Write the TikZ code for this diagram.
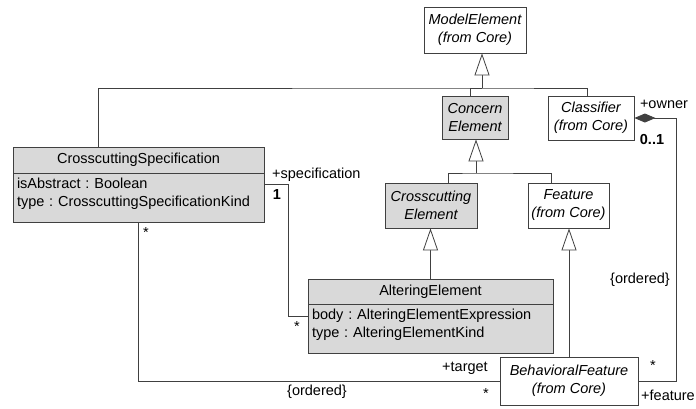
\documentclass[tikz,border=0pt]{standalone}
\usepackage{fontspec}
\setmainfont{Liberation Sans}
\usetikzlibrary{arrows.meta,positioning}
\newcommand\umlfont{\fontsize{14.5}{18}\selectfont}
\frenchspacing

\begin{document}
\begin{tikzpicture}[
  x=1pt, y=-1pt,
  font=\umlfont,
  node distance=0pt,
  line/.style={draw=black!75, line width=0.8pt},
  cls/.style={line, fill=gray!30, align=center, inner sep=0pt},
  abs/.style={line, fill=white, align=center, inner sep=0pt, font=\umlfont\itshape},
  attrs/.style={line, fill=gray!30, align=left, inner xsep=4pt, inner ysep=4pt, text depth=30pt},
  gen/.style={line, -{Triangle[open, length=22pt, width=15pt, fill=white]}},
  comp/.style={line, -{Diamond[length=21pt, width=9pt, fill=black!75]}},
  lbl/.style={inner sep=0pt}
]
\useasboundingbox (0,0) rectangle (696,408);

% classes
\node[abs, minimum width=102pt, minimum height=46pt] (model) at (475,30) {ModelElement\\(from Core)};
\node[abs, fill=gray!30, minimum width=66pt, minimum height=43pt] (concern) at (475,117.5) {Concern\\Element};
\node[abs, minimum width=86pt, minimum height=44pt] (classifier) at (591,118) {Classifier\\(from Core)};
\node[abs, fill=gray!30, minimum width=92pt, minimum height=45pt] (cross) at (431,205.5) {Crosscutting\\Element};
\node[abs, minimum width=81pt, minimum height=45pt] (feature) at (568.5,205.5) {Feature\\(from Core)};
\node[abs, minimum width=138pt, minimum height=48pt] (behav) at (569,381) {BehavioralFeature\\(from Core)};

\node[cls, minimum width=251pt, minimum height=26pt] (spec) at (138.5,160) {CrosscuttingSpecification};
\node[attrs, text width=243pt, minimum height=49pt, below=of spec] (specattr)
  {isAbstract : Boolean\\type : CrosscuttingSpecificationKind};
\node[cls, minimum width=245pt, minimum height=25pt] (altering) at (430.5,291.5) {AlteringElement};
\node[attrs, text width=237pt, minimum height=48pt, below=of altering] (alteringattr)
  {body : AlteringElementExpression\\type : AlteringElementKind};

% generalizations
\coordinate (bar1) at (482,88);
\draw[gen] (bar1) -- (bar1 |- model.south);
\draw[line] ([xshift=-40.5pt]spec.north) |- (bar1) -| ([xshift=-4pt]classifier.north);
\draw[line] ([xshift=-5pt]concern.north) |- (bar1);

\coordinate (bar2) at (476,173);
\draw[gen] (bar2) -- (bar2 |- concern.south);
\draw[line] ([xshift=17pt]cross.north) |- (bar2) -| ([xshift=-17.5pt]feature.north);

\draw[gen] (altering.north) -- (altering.north |- cross.south);
\draw[gen] (behav.north) -- (behav.north |- feature.south);

% associations
\draw[line] ([yshift=13.5pt]specattr.east) -- ++(24,0) |- ([yshift=13pt]alteringattr.west);
\draw[line] (specattr.south) |- (behav.west);
\draw[comp] (behav.east) -- ++(38,0) |- (classifier.east);

% roles and multiplicities
\node[lbl, anchor=west] (specrole) at (272,175) {+specification};
\node[lbl, font=\umlfont\bfseries] (specone) at (277,195) {1};
\node[lbl] (altstar) at (297,327) {*};
\node[lbl] (specstar) at (146,233) {*};
\node[lbl] (ordleft) at (317,392) {\{ordered\}};
\node[lbl] (target) at (465,368) {+target};
\node[lbl] (targetstar) at (486,394) {*};
\node[lbl] (owner) at (664,104) {+owner};
\node[lbl, font=\umlfont\bfseries] (ownermult) at (652,140) {0..1};
\node[lbl] (ordright) at (640,280) {\{ordered\}};
\node[lbl] (featstar) at (653,366) {*};
\node[lbl] (featrole) at (668,395) {+feature};
\end{tikzpicture}
\end{document}
